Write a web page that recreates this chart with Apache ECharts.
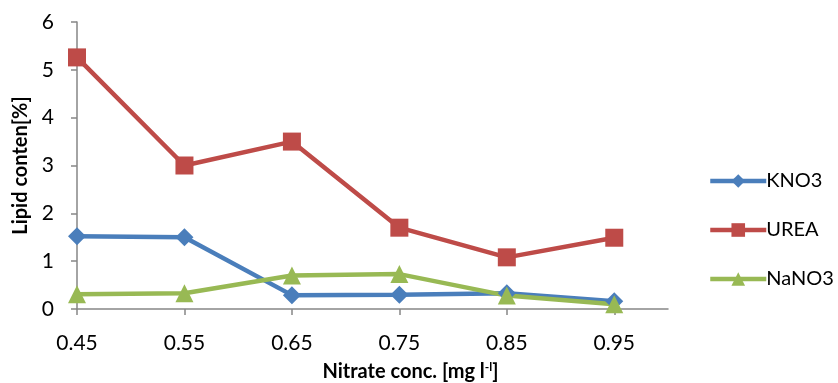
<!DOCTYPE html>
<html>
<head>
<meta charset="utf-8">
<script src="https://cdn.jsdelivr.net/npm/echarts@6/dist/echarts.min.js"></script>
<style>
  html, body { margin: 0; padding: 0; background: #fff; }
  #chart { width: 838px; height: 383px; }
</style>
</head>
<body>
<div id="chart"></div>
<script>
// nitrate concentration (x) and lipid content per nitrogen source
const concs = [0.45, 0.55, 0.65, 0.75, 0.85, 0.95];
const kno3 = [1.52, 1.5, 0.29, 0.3, 0.33, 0.16];
const urea = [5.26, 3.0, 3.5, 1.7, 1.08, 1.49];
const nano3 = [0.31, 0.33, 0.7, 0.73, 0.28, 0.1];

const font = 'Lato, "Liberation Sans", sans-serif';
const axisGray = '#868686';

const pairs = vals => concs.map((c, i) => [c, vals[i]]);

const chart = echarts.init(document.getElementById('chart'));

const mkSeries = (name, vals, color, symbol, size) => ({
  name,
  type: 'line',
  data: pairs(vals),
  symbol,
  symbolSize: size,
  lineStyle: { color, width: 4.5 },
  itemStyle: { color },
  emphasis: { disabled: true },
  animation: false
});

chart.setOption({
  backgroundColor: '#fff',
  grid: { left: 77, right: 170, top: 22, bottom: 74, outerBoundsMode: 'none', containLabel: false },
  legend: {
    orient: 'vertical',
    left: 703,
    top: 166,
    itemWidth: 56,
    itemHeight: 17,
    itemGap: 29,
    lineStyle: { width: 4.5 },
    textStyle: { fontFamily: font, fontSize: 20, color: '#000', padding: [0, 0, 0, -5] },
    data: ['KNO3', 'UREA', 'NaNO3']
  },
  xAxis: {
    type: 'value',
    min: 0.45,
    max: 1.0,
    splitLine: { show: false },
    axisLine: { lineStyle: { color: axisGray, width: 1.5 } },
    axisTick: { show: true, length: 6, customValues: concs, lineStyle: { color: axisGray, width: 1.5 } },
    axisLabel: {
      customValues: concs,
      margin: 24,
      fontFamily: font,
      fontSize: 21,
      color: '#000',
      formatter: v => v.toFixed(2)
    },
    name: '{b|Nitrate conc. [mg l}{s|-l}{b|]}',
    nameLocation: 'middle',
    nameGap: 52,
    nameTextStyle: {
      padding: [0, 0, 0, 76],
      rich: {
        b: { fontFamily: font, fontSize: 20, fontWeight: 'bold', color: '#000' },
        s: { fontFamily: font, fontSize: 12, fontWeight: 'bold', color: '#000', verticalAlign: 'top', padding: [0, 0, 9, 0] }
      }
    }
  },
  yAxis: {
    type: 'value',
    min: 0,
    max: 6,
    interval: 1,
    splitLine: { show: false },
    axisLine: { show: true, lineStyle: { color: axisGray, width: 1.5 } },
    axisTick: { show: true, length: 6, lineStyle: { color: axisGray, width: 1.5 } },
    axisLabel: { margin: 23, fontFamily: font, fontSize: 21, color: '#000' },
    name: 'Lipid conten[%]',
    nameLocation: 'middle',
    nameGap: 46,
    nameTextStyle: { fontFamily: font, fontSize: 20, fontWeight: 'bold', color: '#000' }
  },
  series: [
    mkSeries('KNO3', kno3, '#4A7EBB', 'diamond', 18),
    mkSeries('UREA', urea, '#BE4B48', 'rect', 18),
    mkSeries('NaNO3', nano3, '#98B954', 'triangle', 18)
  ]
});
</script>
</body>
</html>
